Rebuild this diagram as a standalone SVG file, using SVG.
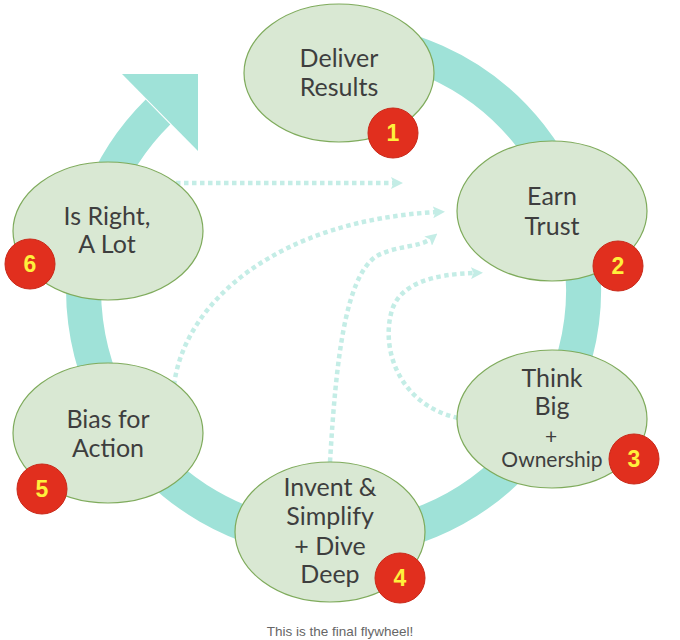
<svg xmlns="http://www.w3.org/2000/svg" width="680" height="640" viewBox="0 0 680 640">
<defs>
<style>
.ring{fill:none;stroke:#9fe2d8;stroke-width:35}
.head{fill:#9fe2d8}
.dot{fill:none;stroke:#c4ede6;stroke-width:4.5;stroke-dasharray:4.5 3.5}
.node{fill:#d9e8d3;stroke:#7fab5c;stroke-width:1.2}
.lbl{font-family:Lato,"Open Sans","DejaVu Sans",sans-serif;font-size:25px;fill:#3e3e3e;text-anchor:middle}
.sm{font-size:21px}
.badge{fill:#e12f1e;stroke:#c92818;stroke-width:1}
.num{font-family:"Liberation Sans",Arial,sans-serif;font-weight:bold;font-size:23px;fill:#fff03c;text-anchor:middle}
.cap{font-family:"Liberation Sans",Arial,sans-serif;font-size:13.5px;fill:#666;text-anchor:middle}
</style>
<marker id="ah" viewBox="0 0 12 12" refX="5" refY="6" markerWidth="12" markerHeight="12" markerUnits="userSpaceOnUse" orient="auto">
<path d="M0,0 L12,6 L0,12 L2.5,6 Z" fill="#c4ede6"/>
</marker>
</defs>
<rect width="680" height="640" fill="#fff"/>
<g id="flywheel">
<path class="ring" d="M330,40 A250,250 0 1 1 158,112"/>
<polygon class="head" points="122,74 198,74 198,151"/>
</g>
<g id="connectors">
<path class="dot" d="M176,183 L396,183" marker-end="url(#ah)"/>
<path class="dot" d="M174,385 C185,300 280,220 438,212" marker-end="url(#ah)"/>
<path class="dot" d="M330,462 C336,360 345,280 375,257 C395,245 420,248 432,238" marker-end="url(#ah)"/>
<path class="dot" d="M458,418 C400,405 380,350 392,310 C400,285 430,274 476,273" marker-end="url(#ah)"/>
</g>
<g id="n1">
<ellipse class="node" cx="339" cy="73" rx="95" ry="69"/>
<text class="lbl" x="339" y="67">Deliver</text>
<text class="lbl" x="339" y="96">Results</text>
<circle class="badge" cx="393" cy="133" r="25"/>
<text class="num" x="393" y="141">1</text>
</g>
<g id="n2">
<ellipse class="node" cx="552" cy="211" rx="95" ry="70"/>
<text class="lbl" x="552" y="205">Earn</text>
<text class="lbl" x="552" y="235">Trust</text>
<circle class="badge" cx="618" cy="266" r="25"/>
<text class="num" x="618" y="274">2</text>
</g>
<g id="n3">
<ellipse class="node" cx="552" cy="419" rx="95" ry="69"/>
<text class="lbl" x="552" y="387">Think</text>
<text class="lbl" x="552" y="415">Big</text>
<text class="lbl sm" x="551" y="444">+</text>
<text class="lbl sm" x="552" y="467">Ownership</text>
<circle class="badge" cx="634" cy="459" r="25"/>
<text class="num" x="634" y="467">3</text>
</g>
<g id="n4">
<ellipse class="node" cx="330" cy="532" rx="95" ry="70"/>
<text class="lbl" x="330" y="496">Invent &amp;</text>
<text class="lbl" x="330" y="525">Simplify</text>
<text class="lbl" x="330" y="555">+ Dive</text>
<text class="lbl" x="330" y="583">Deep</text>
<circle class="badge" cx="400" cy="578" r="25"/>
<text class="num" x="400" y="586">4</text>
</g>
<g id="n5">
<ellipse class="node" cx="108" cy="433" rx="95" ry="70"/>
<text class="lbl" x="108" y="428">Bias for</text>
<text class="lbl" x="108" y="457">Action</text>
<circle class="badge" cx="42" cy="489" r="25"/>
<text class="num" x="42" y="497">5</text>
</g>
<g id="n6">
<ellipse class="node" cx="108" cy="231" rx="95" ry="69"/>
<text class="lbl" x="107" y="225">Is Right,</text>
<text class="lbl" x="107" y="253">A Lot</text>
<circle class="badge" cx="30" cy="264" r="25"/>
<text class="num" x="30" y="272">6</text>
</g>
<text class="cap" x="340" y="636">This is the final flywheel!</text>
</svg>
